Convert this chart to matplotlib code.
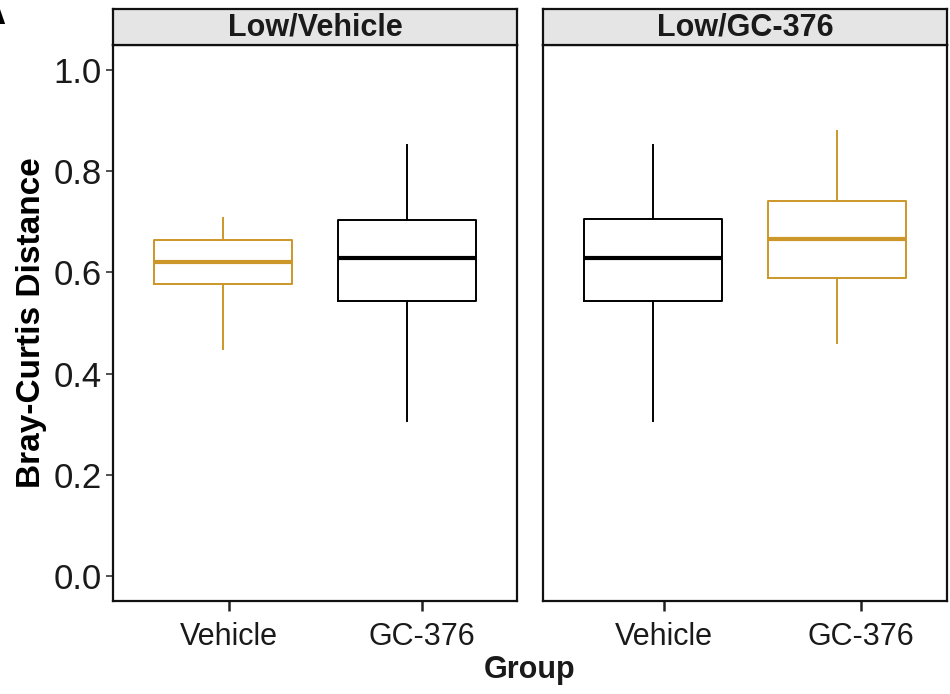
import matplotlib
matplotlib.use('Agg')
import matplotlib.pyplot as plt

# facet titles and groups
panels = ["Low/Vehicle", "Low/GC-376"]
groups = ["Vehicle", "GC-376"]

# box stats per panel: [whislo, q1, med, q3, whishi] for Vehicle, GC-376
low_vehicle = [[0.448, 0.578, 0.621, 0.665, 0.707],
               [0.306, 0.543, 0.629, 0.704, 0.852]]
low_gc376 = [[0.306, 0.543, 0.628, 0.705, 0.852],
             [0.461, 0.589, 0.667, 0.742, 0.880]]
box_colors = [["#CC9629", "black"], ["black", "#CC9629"]]

# tick positions as they sit in the original figure
tick_pos = [[1.03, 2.08], [1.06, 2.13]]

plt.rcParams['font.family'] = ['Liberation Sans', 'DejaVu Sans']

fig = plt.figure(figsize=(9.5, 6.94), dpi=100)

lefts = [113 / 950, 543 / 950]
width = 404 / 950
bottom = 1 - 601 / 694
height = 556 / 694
strip_h = 36 / 694

for i, (title, data) in enumerate(zip(panels, [low_vehicle, low_gc376])):
    ax = fig.add_axes([lefts[i], bottom, width, height])
    for j, s in enumerate(data):
        st = dict(whislo=s[0], q1=s[1], med=s[2], q3=s[3], whishi=s[4], fliers=[])
        c = box_colors[i][j]
        ax.bxp([st], positions=[j + 1], widths=0.75, showcaps=False,
               boxprops=dict(color=c, linewidth=1.4),
               whiskerprops=dict(color=c, linewidth=1.4),
               medianprops=dict(color=c, linewidth=3.0, solid_capstyle='butt'),
               manage_ticks=False)
    ax.set_xlim(0.4, 2.6)
    ax.set_ylim(-0.05, 1.05)
    ax.set_xticks(tick_pos[i])
    ax.set_xticklabels(groups, fontsize=22, color='#1a1a1a')
    ax.tick_params(axis='x', length=7, width=1.8, pad=8, color='#222222')
    if i == 0:
        ax.set_yticks([0.0, 0.2, 0.4, 0.6, 0.8, 1.0])
        ax.set_yticklabels(["0.0", "0.2", "0.4", "0.6", "0.8", "1.0"], fontsize=25, color='#1a1a1a')
        ax.tick_params(axis='y', length=5, width=1.2, pad=3, color='#333333')
        ax.set_ylabel("Bray-Curtis Distance", fontsize=24, fontweight='bold', labelpad=5)
    else:
        ax.set_yticks([])
    for sp in ax.spines.values():
        sp.set_linewidth(1.6)
        sp.set_color('#111111')

    # facet strip
    sax = fig.add_axes([lefts[i], bottom + height, width, strip_h])
    sax.set_facecolor('#e5e5e5')
    sax.set_xticks([])
    sax.set_yticks([])
    for sp in sax.spines.values():
        sp.set_linewidth(1.6)
        sp.set_color('#111111')
    sax.text(0.5, 0.5, title, ha='center', va='center', fontsize=22,
             fontweight='bold', transform=sax.transAxes, color='#1a1a1a')

fig.text((113 + 947) / 2 / 950, 1 - 670 / 694, "Group", ha='center', va='center',
         fontsize=22, fontweight='bold', color='#1a1a1a')

# cropped panel letter in the corner
fig.text(-0.022, 1.005, "A", ha='left', va='top', fontsize=26, fontweight='bold')

fig.savefig("out.png", dpi=100)
